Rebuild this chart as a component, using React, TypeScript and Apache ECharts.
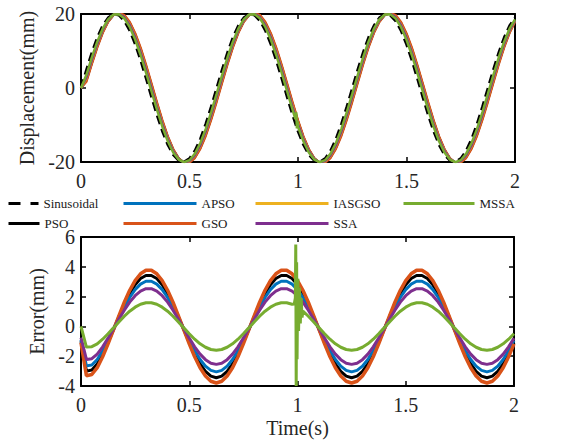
import React, { useEffect, useRef } from "react";
import * as echarts from "echarts";

const time = [
  0, 0.025, 0.05, 0.075, 0.1, 0.125, 0.15, 0.175, 0.2, 0.225,
  0.25, 0.275, 0.3, 0.325, 0.35, 0.375, 0.4, 0.425, 0.45, 0.475,
  0.5, 0.525, 0.55, 0.575, 0.6, 0.625, 0.65, 0.675, 0.7, 0.725,
  0.75, 0.775, 0.8, 0.825, 0.85, 0.875, 0.9, 0.925, 0.95, 0.975,
  1, 1.025, 1.05, 1.075, 1.1, 1.125, 1.15, 1.175, 1.2, 1.225,
  1.25, 1.275, 1.3, 1.325, 1.35, 1.375, 1.4, 1.425, 1.45, 1.475,
  1.5, 1.525, 1.55, 1.575, 1.6, 1.625, 1.65, 1.675, 1.7, 1.725,
  1.75, 1.775, 1.8, 1.825, 1.85, 1.875, 1.9, 1.925, 1.95, 1.975, 2,
];

// Top plot: displacement (mm)
const sinusoidal = [
  0, 4.97, 9.64, 13.69, 16.89, 19.02, 19.96, 19.65, 18.10, 15.41, 11.76, 7.36, 2.51, -2.51, -7.36, -11.76, -15.41, -18.10, -19.65, -19.96, -19.02, -16.89, -13.69, -9.64, -4.97,
  0, 4.97, 9.64, 13.69, 16.89, 19.02, 19.96, 19.65, 18.10, 15.41, 11.76, 7.36, 2.51, -2.51, -7.36, -11.76, -15.41, -18.10, -19.65, -19.96, -19.02, -16.89, -13.69, -9.64, -4.97,
  0, 4.97, 9.64, 13.69, 16.89, 19.02, 19.96, 19.65, 18.10, 15.41, 11.76, 7.36, 2.51, -2.51, -7.36, -11.76, -15.41, -18.10, -19.65, -19.96, -19.02, -16.89, -13.69, -9.64, -4.97,
  0, 4.97, 9.64, 13.69, 16.89, 19.02,
];
const psoOut = [
  0, 1.97, 6.71, 11.17, 15.04, 17.95, 19.74, 20.30, 19.57, 17.61, 14.55, 10.57, 5.93, 0.91, -4.15, -8.97, -13.21, -16.63, -19.00, -20.18, -20.09, -18.74, -16.21, -12.66, -8.31,
  -3.45, 1.63, 6.62, 11.17, 15.04, 17.95, 19.74, 20.30, 19.57, 17.61, 14.55, 10.57, 5.93, 0.91, -4.15, -8.97, -13.21, -16.63, -19.00, -20.18, -20.09, -18.74, -16.21, -12.66, -8.31,
  -3.45, 1.63, 6.62, 11.17, 15.04, 17.95, 19.74, 20.30, 19.57, 17.61, 14.55, 10.57, 5.93, 0.91, -4.15, -8.97, -13.21, -16.63, -19.00, -20.18, -20.09, -18.74, -16.21, -12.66, -8.31,
  -3.45, 1.63, 6.62, 11.17, 15.04, 17.95,
];
const apsoOut = [
  0, 2.32, 7.05, 11.47, 15.26, 18.08, 19.77, 20.22, 19.40, 17.35, 14.23, 10.20, 5.54, 0.52, -4.52, -9.29, -13.47, -16.80, -19.08, -20.15, -19.96, -18.52, -15.91, -12.31, -7.92,
  -3.05, 2.02, 6.97, 11.47, 15.26, 18.08, 19.77, 20.22, 19.40, 17.35, 14.23, 10.20, 5.54, 0.52, -4.52, -9.29, -13.47, -16.80, -19.08, -20.15, -19.96, -18.52, -15.91, -12.31, -7.92,
  -3.05, 2.02, 6.97, 11.47, 15.26, 18.08, 19.77, 20.22, 19.40, 17.35, 14.23, 10.20, 5.54, 0.52, -4.52, -9.29, -13.47, -16.80, -19.08, -20.15, -19.96, -18.52, -15.91, -12.31, -7.92,
  -3.05, 2.02, 6.97, 11.47, 15.26, 18.08,
];
const gsoOut = [
  0, 1.66, 6.41, 10.92, 14.85, 17.85, 19.72, 20.36, 19.72, 17.83, 14.83, 10.89, 6.28, 1.26, -3.83, -8.69, -12.99, -16.48, -18.94, -20.20, -20.19, -18.93, -16.46, -12.97, -8.65,
  -3.80, 1.29, 6.31, 10.92, 14.85, 17.85, 19.72, 20.36, 19.72, 17.83, 14.83, 10.89, 6.28, 1.26, -3.83, -8.69, -12.99, -16.48, -18.94, -20.20, -20.19, -18.93, -16.46, -12.97, -8.65,
  -3.80, 1.29, 6.31, 10.92, 14.85, 17.85, 19.72, 20.36, 19.72, 17.83, 14.83, 10.89, 6.28, 1.26, -3.83, -8.69, -12.99, -16.48, -18.94, -20.20, -20.19, -18.93, -16.46, -12.97, -8.65,
  -3.80, 1.29, 6.31, 10.92, 14.85, 17.85,
];
const iasgsoOut = [
  0, 2.53, 7.26, 11.65, 15.39, 18.15, 19.78, 20.17, 19.29, 17.19, 14.03, 9.96, 5.29, 0.27, -4.76, -9.49, -13.63, -16.91, -19.13, -20.14, -19.89, -18.39, -15.73, -12.09, -7.68,
  -2.80, 2.26, 7.19, 11.65, 15.39, 18.15, 19.78, 20.17, 19.29, 17.19, 14.03, 9.96, 5.29, 0.27, -4.76, -9.49, -13.63, -16.91, -19.13, -20.14, -19.89, -18.39, -15.73, -12.09, -7.68,
  -2.80, 2.26, 7.19, 11.65, 15.39, 18.15, 19.78, 20.17, 19.29, 17.19, 14.03, 9.96, 5.29, 0.27, -4.76, -9.49, -13.63, -16.91, -19.13, -20.14, -19.89, -18.39, -15.73, -12.09, -7.68,
  -2.80, 2.26, 7.19, 11.65, 15.39, 18.15,
];
const ssaOut = [
  0, 2.75, 7.47, 11.83, 15.52, 18.23, 19.80, 20.13, 19.19, 17.04, 13.82, 9.73, 5.04, 0.02, -4.99, -9.70, -13.78, -17.01, -19.17, -20.12, -19.81, -18.26, -15.55, -11.87, -7.44,
  -2.55, 2.50, 7.41, 11.83, 15.52, 18.23, 19.80, 20.13, 19.19, 17.04, 13.82, 9.73, 5.04, 0.02, -4.99, -9.70, -13.78, -17.01, -19.17, -20.12, -19.81, -18.26, -15.55, -11.87, -7.44,
  -2.55, 2.50, 7.41, 11.83, 15.52, 18.23, 19.80, 20.13, 19.19, 17.04, 13.82, 9.73, 5.04, 0.02, -4.99, -9.70, -13.78, -17.01, -19.17, -20.12, -19.81, -18.26, -15.55, -11.87, -7.44,
  -2.55, 2.50, 7.41, 11.83, 15.52, 18.23,
];
const mssaOut = [
  0, 3.58, 8.28, 12.52, 16.03, 18.53, 19.86, 19.95, 18.78, 16.43, 13.05, 8.85, 4.10, -0.92, -5.87, -10.47, -14.39, -17.42, -19.35, -20.06, -19.51, -17.75, -14.86, -11.04, -6.52,
  -1.60, 3.42, 8.24, 12.52, 16.03, 18.53, 19.86, 19.95, 18.78, 16.43, 13.05, 8.85, 4.10, -0.92, -5.87, -10.47, -14.39, -17.42, -19.35, -20.06, -19.51, -17.75, -14.86, -11.04, -6.52,
  -1.60, 3.42, 8.24, 12.52, 16.03, 18.53, 19.86, 19.95, 18.78, 16.43, 13.05, 8.85, 4.10, -0.92, -5.87, -10.47, -14.39, -17.42, -19.35, -20.06, -19.51, -17.75, -14.86, -11.04, -6.52,
  -1.60, 3.42, 8.24, 12.52, 16.03, 18.53,
];
const mssaOutBlipTime = [0.988, 0.992, 0.995, 0.998];
const mssaOutBlip = [-8.4, -6.6, -10.9, -9.0];

// Bottom plot: error (mm)
const psoErr = [
  -1.00, -3.00, -2.93, -2.52, -1.85, -1.07, -0.22, 0.65, 1.47, 2.20, 2.79, 3.21, 3.42, 3.42, 3.21, 2.79, 2.20, 1.47, 0.65, -0.22, -1.07, -1.85, -2.52, -3.02, -3.34,
  -3.45, -3.34, -3.02, -2.52, -1.85, -1.07, -0.22, 0.65, 1.47, 2.20, 2.79, 3.21, 3.42, 3.42, 3.21, 2.79, 2.20, 1.47, 0.65, -0.22, -1.07, -1.85, -2.52, -3.02, -3.34,
  -3.45, -3.34, -3.02, -2.52, -1.85, -1.07, -0.22, 0.65, 1.47, 2.20, 2.79, 3.21, 3.42, 3.42, 3.21, 2.79, 2.20, 1.47, 0.65, -0.22, -1.07, -1.85, -2.52, -3.02, -3.34,
  -3.45, -3.34, -3.02, -2.52, -1.85, -1.07,
];
const apsoErr = [
  -0.90, -2.65, -2.59, -2.22, -1.63, -0.94, -0.19, 0.57, 1.30, 1.94, 2.47, 2.84, 3.03, 3.03, 2.84, 2.47, 1.94, 1.30, 0.57, -0.19, -0.94, -1.63, -2.22, -2.67, -2.95,
  -3.05, -2.95, -2.67, -2.22, -1.63, -0.94, -0.19, 0.57, 1.30, 1.94, 2.47, 2.84, 3.03, 3.03, 2.84, 2.47, 1.94, 1.30, 0.57, -0.19, -0.94, -1.63, -2.22, -2.67, -2.95,
  -3.05, -2.95, -2.67, -2.22, -1.63, -0.94, -0.19, 0.57, 1.30, 1.94, 2.47, 2.84, 3.03, 3.03, 2.84, 2.47, 1.94, 1.30, 0.57, -0.19, -0.94, -1.63, -2.22, -2.67, -2.95,
  -3.05, -2.95, -2.67, -2.22, -1.63, -0.94,
];
const gsoErr = [
  -1.10, -3.31, -3.23, -2.77, -2.04, -1.17, -0.24, 0.71, 1.62, 2.42, 3.07, 3.53, 3.77, 3.77, 3.53, 3.07, 2.42, 1.62, 0.71, -0.24, -1.17, -2.04, -2.77, -3.33, -3.68,
  -3.80, -3.68, -3.33, -2.77, -2.04, -1.17, -0.24, 0.71, 1.62, 2.42, 3.07, 3.53, 3.77, 3.77, 3.53, 3.07, 2.42, 1.62, 0.71, -0.24, -1.17, -2.04, -2.77, -3.33, -3.68,
  -3.80, -3.68, -3.33, -2.77, -2.04, -1.17, -0.24, 0.71, 1.62, 2.42, 3.07, 3.53, 3.77, 3.77, 3.53, 3.07, 2.42, 1.62, 0.71, -0.24, -1.17, -2.04, -2.77, -3.33, -3.68,
  -3.80, -3.68, -3.33, -2.77, -2.04, -1.17,
];
const ssaErr = [
  -0.75, -2.22, -2.17, -1.86, -1.37, -0.79, -0.16, 0.48, 1.09, 1.63, 2.06, 2.37, 2.53, 2.53, 2.37, 2.06, 1.63, 1.09, 0.48, -0.16, -0.79, -1.37, -1.86, -2.23, -2.47,
  -2.55, -2.47, -2.23, -1.86, -1.37, -0.79, -0.16, 0.48, 1.09, 1.63, 2.06, 2.37, 2.53, 2.53, 2.37, 2.06, 1.63, 1.09, 0.48, -0.16, -0.79, -1.37, -1.86, -2.23, -2.47,
  -2.55, -2.47, -2.23, -1.86, -1.37, -0.79, -0.16, 0.48, 1.09, 1.63, 2.06, 2.37, 2.53, 2.53, 2.37, 2.06, 1.63, 1.09, 0.48, -0.16, -0.79, -1.37, -1.86, -2.23, -2.47,
  -2.55, -2.47, -2.23, -1.86, -1.37, -0.79,
];
const mssaErr = [
  0, -1.39, -1.36, -1.17, -0.86, -0.49, -0.10, 0.30, 0.68, 1.02, 1.29, 1.49, 1.59, 1.59, 1.49, 1.29, 1.02, 0.68, 0.30, -0.10, -0.49, -0.86, -1.17, -1.40, -1.55,
  -1.60, -1.55, -1.40, -1.17, -0.86, -0.49, -0.10, 0.30, 0.68, 1.02, 1.29, 1.49, 1.59, 1.59, 1.49, 1.29, 1.02, 0.68, 0.30, -0.10, -0.49, -0.86, -1.17, -1.40, -1.55,
  -1.60, -1.55, -1.40, -1.17, -0.86, -0.49, -0.10, 0.30, 0.68, 1.02, 1.29, 1.49, 1.59, 1.59, 1.49, 1.29, 1.02, 0.68, 0.30, -0.10, -0.49, -0.86, -1.17, -1.40, -1.55,
  -1.60, -1.55, -1.40, -1.17, -0.86, -0.49,
];
const mssaErrSpikeTime = [0.985, 0.99, 0.992, 0.994, 0.996, 0.998, 1.002, 1.005, 1.009, 1.013, 1.017, 1.021];
const mssaErrSpike = [1.5, 1.9, 5.5, -4.0, 4.3, -2.2, 3.2, -0.3, 2.6, 0.2, 1.9, 0.6];

const FONT = "'Liberation Serif', 'Times New Roman', serif";
const TEXT_COLOR = "#262626";
const COLORS: Record<string, string> = {
  Sinusoidal: "#000000",
  PSO: "#000000",
  APSO: "#0072BD",
  GSO: "#D95319",
  IASGSO: "#EDB120",
  SSA: "#7E2F8E",
  MSSA: "#77AC30",
};

function pairs(ts: number[], vs: number[]) {
  return ts.map((t, i) => [t, vs[i]]);
}
function merged(ts: number[], vs: number[], ts2: number[], vs2: number[]) {
  return pairs(ts, vs)
    .concat(pairs(ts2, vs2))
    .sort((a, b) => a[0] - b[0]);
}

const legendLayout = [
  { name: "Sinusoidal", left: 7, top: 197, w: 30 },
  { name: "PSO", left: 7, top: 217, w: 31 },
  { name: "APSO", left: 122, top: 197, w: 73 },
  { name: "GSO", left: 122, top: 217, w: 73 },
  { name: "IASGSO", left: 254, top: 197, w: 73 },
  { name: "SSA", left: 254, top: 217, w: 73 },
  { name: "MSSA", left: 402, top: 197, w: 71 },
];

export default function App() {
  const ref = useRef<HTMLDivElement>(null);

  useEffect(() => {
    if (!ref.current) return;
    const chart = echarts.init(ref.current, undefined, { renderer: "svg" });

    const frameLine = { show: true, onZero: false, lineStyle: { color: "#000", width: 2 } };
    const tick = { show: true, inside: true, length: 5, lineStyle: { color: "#000", width: 1.5 } };
    const lbl = { fontFamily: FONT, fontSize: 20, color: TEXT_COLOR };
    const nameStyle = { fontFamily: FONT, fontSize: 20, color: TEXT_COLOR };

    const xBase = (gridIndex: number, position: string, showLabel: boolean) => ({
      gridIndex,
      type: "value",
      min: 0,
      max: 2,
      interval: 0.5,
      position,
      axisLine: frameLine,
      axisTick: tick,
      axisLabel: showLabel ? { ...lbl, margin: 9 } : { show: false },
      splitLine: { show: false },
    });

    const topLine = (name: string, data: number[][], width = 2.2, extra: any = {}) => ({
      name,
      type: "line",
      xAxisIndex: 0,
      yAxisIndex: 0,
      data,
      symbol: "none",
      showSymbol: false,
      lineStyle: { color: COLORS[name], width, ...extra },
      itemStyle: { color: COLORS[name] },
      emphasis: { disabled: true },
    });
    const botLine = (name: string, data: number[][], width = 3) => ({
      name,
      type: "line",
      xAxisIndex: 2,
      yAxisIndex: 2,
      data,
      symbol: "none",
      showSymbol: false,
      lineStyle: { color: COLORS[name], width },
      itemStyle: { color: COLORS[name] },
      emphasis: { disabled: true },
    });

    const option: any = {
      animation: false,
      backgroundColor: "#ffffff",
      textStyle: { fontFamily: FONT },
      grid: [
        { left: 81, top: 14, width: 434, height: 148, outerBoundsMode: "none" },
        { left: 81, top: 237, width: 433, height: 149, outerBoundsMode: "none" },
      ],
      legend: legendLayout.map((l) => ({
        data: [l.name],
        left: l.left,
        top: l.top,
        padding: 0,
        itemWidth: l.w,
        itemHeight: 14,
        textStyle: { fontFamily: FONT, fontSize: 13, color: "#1a1a1a" },
        itemStyle: { opacity: 0, borderWidth: 0 },
        lineStyle: l.name === "Sinusoidal" ? { width: 3, type: [12, 10] } : { width: 3 },
      })),
      xAxis: [
        xBase(0, "bottom", true),
        xBase(0, "top", false),
        {
          ...xBase(1, "bottom", true),
          name: "Time(s)",
          nameLocation: "middle",
          nameGap: 32,
          nameTextStyle: nameStyle,
        },
        xBase(1, "top", false),
      ],
      yAxis: [
        {
          gridIndex: 0,
          type: "value",
          min: -20,
          max: 20,
          interval: 20,
          position: "left",
          axisLine: frameLine,
          axisTick: tick,
          axisLabel: { ...lbl, margin: 6 },
          splitLine: { show: false },
          name: "Displacement(mm)",
          nameLocation: "middle",
          nameGap: 37,
          nameTextStyle: nameStyle,
        },
        {
          gridIndex: 0,
          type: "value",
          min: -20,
          max: 20,
          interval: 20,
          position: "right",
          axisLine: frameLine,
          axisTick: tick,
          axisLabel: { show: false },
          splitLine: { show: false },
        },
        {
          gridIndex: 1,
          type: "value",
          min: -4,
          max: 6,
          interval: 2,
          position: "left",
          axisLine: frameLine,
          axisTick: tick,
          axisLabel: { ...lbl, margin: 6 },
          splitLine: { show: false },
          name: "Error(mm)",
          nameLocation: "middle",
          nameGap: 29,
          nameTextStyle: nameStyle,
        },
        {
          gridIndex: 1,
          type: "value",
          min: -4,
          max: 6,
          interval: 2,
          position: "right",
          axisLine: frameLine,
          axisTick: tick,
          axisLabel: { show: false },
          splitLine: { show: false },
        },
      ],
      series: [
        topLine("Sinusoidal", pairs(time, sinusoidal), 2.5, { type: [9, 5] }),
        topLine("PSO", pairs(time, psoOut)),
        topLine("APSO", pairs(time, apsoOut)),
        topLine("GSO", pairs(time, gsoOut)),
        topLine("IASGSO", pairs(time, iasgsoOut)),
        topLine("SSA", pairs(time, ssaOut)),
        topLine("MSSA", merged(time, mssaOut, mssaOutBlipTime, mssaOutBlip), 2.5),
        botLine("PSO", pairs(time, psoErr)),
        botLine("APSO", pairs(time, apsoErr)),
        botLine("GSO", pairs(time, gsoErr), 3.5),
        botLine("SSA", pairs(time, ssaErr)),
        botLine("MSSA", merged(time, mssaErr, mssaErrSpikeTime, mssaErrSpike), 3),
      ],
    };

    chart.setOption(option);
    return () => chart.dispose();
  }, []);

  return (
    <div
      ref={ref}
      style={{ position: "fixed", left: 0, top: 0, width: 568, height: 444, background: "#fff" }}
    />
  );
}
